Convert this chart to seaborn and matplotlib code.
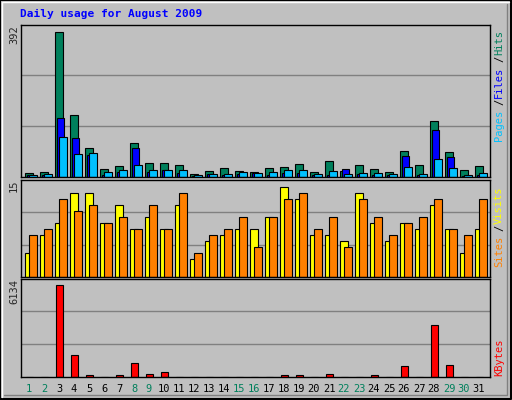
import matplotlib
matplotlib.use("Agg")
import matplotlib.pyplot as plt
import seaborn as sns
import numpy as np

sns.set_style("white")
plt.rcParams['font.family'] = ['DejaVu Sans Mono']

days = list(range(1, 32))
hits = [11,13,392,167,77,21,29,93,37,37,32,8,16,24,16,13,24,27,35,13,43,16,32,21,13,69,32,152,67,19,29]
files = [5,5,159,104,59,5,13,77,13,19,11,3,8,5,8,11,5,11,11,5,5,21,8,5,5,56,5,128,53,3,5]
pages = [5,8,109,61,64,13,19,32,19,19,19,5,8,8,13,11,13,19,19,8,16,8,11,11,8,27,8,48,24,5,11]
sites = [4,7,9,14,14,9,12,8,10,8,12,3,6,7,8,8,10,15,13,7,7,6,14,9,6,9,8,12,8,4,8]
visits = [7,8,13,11,12,9,10,8,12,8,14,4,7,8,10,5,10,13,14,8,10,5,13,10,7,9,10,13,8,7,13]
kbytes = [20,20,6134,1478,130,20,130,940,200,336,20,20,20,20,20,20,20,130,130,20,200,20,20,130,20,740,20,3490,806,20,20]
weekend = {1,2,8,9,15,16,22,23,29,30}

W, H = 512, 400
fig = plt.figure(figsize=(W/100, H/100), dpi=100)
fig.patch.set_facecolor("#C0C0C0")
bg = "#C0C0C0"

def ax_at(x0, y0, x1, y1):
    return fig.add_axes([x0/W, 1-y1/H, (x1-x0)/W, (y1-y0)/H])

# border bevel
border = fig.add_axes([0, 0, 1, 1]); border.set_axis_off()
border.set_xlim(0, W); border.set_ylim(H, 0)
border.plot([0, W-1, W-1, 0, 0], [0, 0, H-1, H-1, 0], color="black", lw=1.5)
border.plot([2, W-3], [2, 2], color="white", lw=1); border.plot([2, 2], [2, H-3], color="white", lw=1)
border.plot([4, W-5, W-5], [H-5, H-5, 4], color="#808080", lw=1)

x = np.array(days, dtype=float)
xl = (1 - 4/15, 1 - 4/15 + 469/15)

def style(ax, top, grid):
    ax.set_facecolor(bg)
    ax.set_xlim(*xl); ax.set_ylim(0, top)
    ax.set_xticks([]); ax.set_yticks([])
    for g in grid:
        ax.axhline(g, color="#808080", lw=1, zorder=0)
    for s in ax.spines.values():
        s.set_color("black"); s.set_linewidth(1)

ek = dict(edgecolor="black", linewidth=0.8, align="edge")
a1 = ax_at(21, 25, 490, 177)
style(a1, 410, [137, 274])
a1.bar(x, hits, 0.55, color="#00805C", **ek)
a1.bar(x + 0.15, files, 0.45, color="#0000FF", **ek)
a1.bar(x + 0.28, pages, 0.5, color="#00C0FF", **ek)

a2 = ax_at(21, 180, 490, 277)
style(a2, 16.2, [5.4, 10.8])
a2.bar(x, sites, 0.5, color="#FFFF00", **ek)
a2.bar(x + 0.27, visits, 0.5, color="#FF8000", **ek)

a3 = ax_at(21, 279, 490, 377)
style(a3, 6134*1.07, [2200, 4400])
a3.bar(x + 0.05, kbytes, 0.5, color="#FF0000", **ek)

fs = 7.5
fig.text(20/W, 1-14/H, "Daily usage for August 2009", color="#0000FF", fontsize=8, fontweight="bold", va="center")
for lab, ytop in [("392", 25), ("15", 180), ("6134", 279)]:
    fig.text(14/W, 1-ytop/H, lab, rotation=90, fontsize=fs, va="top", ha="center")

def right_label(parts, ytop):
    step = 7.2
    total = sum(len(p) for p, _ in parts)
    y = ytop + total*step
    for p, c in parts:
        fig.text(499/W, 1-y/H, p, rotation=90, fontsize=fs, color=c, va="bottom", ha="center")
        y -= len(p)*step

right_label([("Pages", "#00C0FF"), ("/", "black"), ("Files", "#0000FF"), ("/", "black"), ("Hits", "#00805C")], 26)
right_label([("Sites", "#FF8000"), ("/", "black"), ("Visits", "#FFFF00")], 181)
right_label([("KBytes", "#FF0000")], 333)

for d in days:
    xp = 25 + 15*(d-1) + 4
    fig.text(xp/W, 1-389/H, str(d), fontsize=fs, ha="center", va="center",
             color="#00805C" if d in weekend else "black")

fig.savefig("out.png", dpi=100, facecolor=fig.get_facecolor())
